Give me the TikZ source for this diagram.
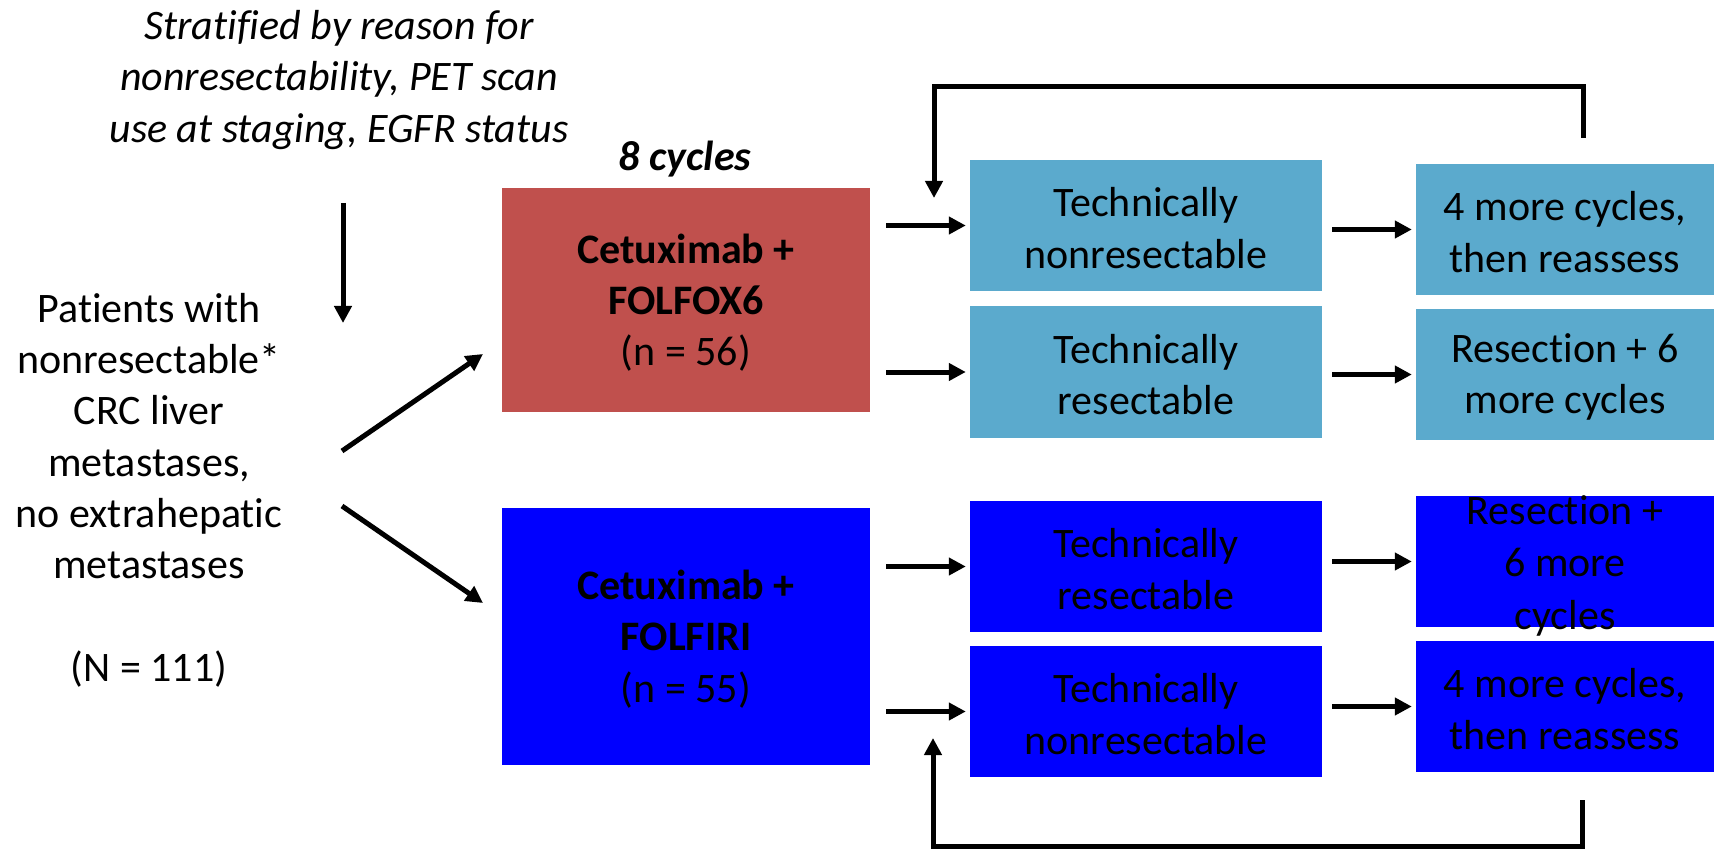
\documentclass[tikz,border=0pt]{standalone}
\usepackage{fontspec}
\setmainfont[Ligatures=CommonOff]{Carlito}
\usetikzlibrary{arrows.meta}
\definecolor{redbox}{RGB}{192,80,77}
\definecolor{ltblue}{RGB}{91,170,205}
\definecolor{dkblue}{RGB}{0,0,255}
\begin{document}
\begin{tikzpicture}[x=1pt,y=-1pt,
  txt/.style={font=\fontsize{42}{51.3}\selectfont, align=center, inner sep=0pt},
  boxtxt/.style={txt, yshift=-2.5pt},
  midbox/.style={inner sep=0pt, minimum width=352pt, minimum height=131pt},
  rightbox/.style={inner sep=0pt, minimum width=298pt, minimum height=131pt},
  armbox/.style={inner sep=0pt, minimum width=368pt},
  arr/.style={line width=5pt, -{Triangle[length=17pt,width=17pt]}}]
\useasboundingbox (0,0) rectangle (1719,850);

% left texts
\node[txt, font=\fontsize{42}{51.3}\selectfont\itshape] (strat) at (339,80)
  {Stratified by reason for\\nonresectability, PET scan\\use at staging, EGFR status};
\node[txt] (patients) at (149,490)
  {Patients with\\nonresectable*\\CRC liver\\metastases,\\no extrahepatic\\metastases\\[51.3pt](N = 111)};
\node[txt, font=\fontsize{42}{51.3}\selectfont\bfseries\itshape] (cyc8) at (685,159) {8 cycles};

% arm boxes
\node[armbox, fill=redbox, minimum height=224pt] (red) at (686,300) {};
\node[boxtxt] (redt) at (red.center) {\textbf{Cetuximab +}\\\textbf{FOLFOX6}\\(n = 56)};
\node[armbox, fill=dkblue, minimum height=257pt] (blue) at (686,636.5) {};
\node[boxtxt] (bluet) at (blue.center) {\textbf{Cetuximab +}\\\textbf{FOLFIRI}\\(n = 55)};

% middle boxes
\node[midbox, fill=ltblue] (tn1) at (1146,225.5) {};
\node[boxtxt] (tn1t) at (tn1.center) {Technically\\nonresectable};
\node[midbox, fill=ltblue] (tr1) at (1146,372) {};
\node[boxtxt] (tr1t) at (tr1.center) {Technically\\resectable};
\node[midbox, fill=dkblue] (tr2) at (1146,566.5) {};
\node[boxtxt] (tr2t) at (tr2.center) {Technically\\resectable};
\node[midbox, fill=dkblue] (tn2) at (1146,711.5) {};
\node[boxtxt] (tn2t) at (tn2.center) {Technically\\nonresectable};

% right boxes
\node[rightbox, fill=ltblue] (rc1) at (1565,229.5) {};
\node[boxtxt] (rc1t) at (rc1.center) {4 more cycles,\\then reassess};
\node[rightbox, fill=ltblue] (rs1) at (1565,374.5) {};
\node[boxtxt] (rs1t) at (rs1.center) {Resection + 6\\more cycles};
\node[rightbox, fill=dkblue] (rs2) at (1565,561.5) {};
\node[txt, font=\fontsize{42}{52.5}\selectfont, yshift=-4pt] (rs2t) at (rs2.center) {Resection +\\6 more\\cycles};
\node[rightbox, fill=dkblue] (rc2) at (1565,706.5) {};
\node[boxtxt] (rc2t) at (rc2.center) {4 more cycles,\\then reassess};

% free connector ends
\coordinate (ds) at (343,203);
\coordinate (de) at (343,323);
\coordinate (d1s) at (342,451);
\coordinate (d1e) at (483,354);
\coordinate (d2s) at (342,506);
\coordinate (d2e) at (483,603);
\coordinate (lt1) at (1583,138);
\coordinate (lt2) at (934,198);
\coordinate (lb1) at (1582,800);
\coordinate (lb2) at (933,738);

\draw[arr] (ds) -- (de);
\draw[arr] (d1s) -- (d1e);
\draw[arr] (d2s) -- (d2e);

\draw[arr, shorten <=16pt, shorten >=4pt] (red.east |- tn1.west) -- (tn1.west);
\draw[arr, shorten <=16pt, shorten >=4pt] (red.east |- tr1.west) -- (tr1.west);
\draw[arr, shorten <=16pt, shorten >=4pt] (blue.east |- tr2.west) -- (tr2.west);
\draw[arr, shorten <=16pt, shorten >=4pt] (blue.east |- tn2.west) -- (tn2.west);

\draw[arr, shorten <=10pt, shorten >=4pt] (tn1.east |- rc1.west) -- (rc1.west);
\draw[arr, shorten <=10pt, shorten >=4pt] (tr1.east |- rs1.west) -- (rs1.west);
\draw[arr, shorten <=10pt, shorten >=4pt] (tr2.east |- rs2.west) -- (rs2.west);
\draw[arr, shorten <=10pt, shorten >=4pt] (tn2.east |- rc2.west) -- (rc2.west);

\draw[arr] (lt1) -- ++(0,-51) -| (lt2);
\draw[arr] (lb1) -- ++(0,46) -| (lb2);
\end{tikzpicture}
\end{document}
